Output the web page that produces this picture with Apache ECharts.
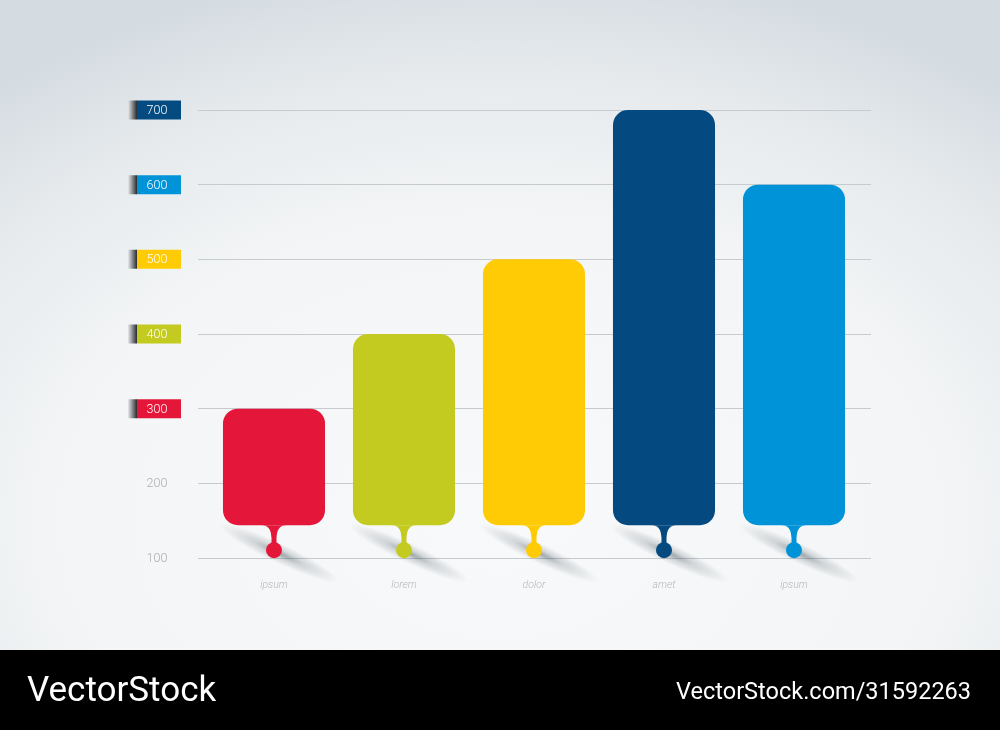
<!DOCTYPE html>
<html>
<head>
<meta charset="utf-8">
<script src="https://cdn.jsdelivr.net/npm/echarts@6/dist/echarts.min.js"></script>
<style>html,body{margin:0;padding:0;background:#fff}#c{width:1000px;height:730px}</style>
</head>
<body>
<div id="c"></div>
<script>
const categories = ['ipsum', 'lorem', 'dolor', 'amet', 'ipsum'];
const values = [300, 400, 500, 700, 600];
const barColors = ['#e4173a', '#c3cb21', '#ffcb05', '#044a80', '#0093d8'];
const yTicks = [100, 200, 300, 400, 500, 600, 700];
const tagValues = [300, 400, 500, 600, 700];
const tagColors = ['#e4173a', '#c3cb21', '#ffcb05', '#0093d8', '#034b80'];
const BAR_BASE = 144;
const DRIP_VALUE = 110.5;

const chart = echarts.init(document.getElementById('c'));

const rich = {
  plain: { width: 40, padding: [2, 4, 0, 9], align: 'center', color: '#a9aeb3',
           fontFamily: 'Roboto', fontWeight: 300, fontSize: 12.5, height: 17, lineHeight: 17 }
};
tagValues.forEach((v, i) => {
  rich['t' + v] = {
    width: 40, padding: [2, 4, 0, 9], height: 17, lineHeight: 17, align: 'center',
    color: '#ffffff', fontFamily: 'Roboto', fontWeight: 300, fontSize: 12.5,
    backgroundColor: new echarts.graphic.LinearGradient(0, 0, 1, 0, [
      { offset: 0, color: '#e6e8ea' },
      { offset: 0.165, color: '#2e3134' },
      { offset: 0.17, color: tagColors[i] },
      { offset: 1, color: tagColors[i] }
    ])
  };
});

function renderItem(params, api) {
  const i = params.dataIndex;
  const top = api.coord([api.value(0), api.value(1)]);
  const bottom = api.coord([api.value(0), BAR_BASE]);
  const dot = api.coord([api.value(0), DRIP_VALUE]);
  const bw = api.size([1, 0])[0] * 0.785;
  const cx = top[0];
  const y0 = bottom[1];
  const dc = dot[1];
  const color = barColors[i];
  const path =
    'M' + (cx - 13) + ' ' + y0 +
    ' C' + (cx - 4) + ' ' + y0 + ' ' + (cx - 3) + ' ' + (y0 + 6) + ' ' + (cx - 2.5) + ' ' + (y0 + 13) +
    ' L' + (cx - 2.5) + ' ' + (dc - 6) +
    ' L' + (cx + 2.5) + ' ' + (dc - 6) +
    ' L' + (cx + 2.5) + ' ' + (y0 + 13) +
    ' C' + (cx + 3) + ' ' + (y0 + 6) + ' ' + (cx + 4) + ' ' + y0 + ' ' + (cx + 13) + ' ' + y0 + ' Z';
  return {
    type: 'group',
    children: [
      {
        type: 'circle',
        shape: { cx: 0, cy: 0, r: 66 },
        x: cx + 5, y: dc + 3,
        scaleX: 1, scaleY: 0.15,
        rotation: -0.44,
        style: {
          fill: new echarts.graphic.RadialGradient(0.5, 0.5, 0.5, [
            { offset: 0, color: 'rgba(30,50,60,0.42)' },
            { offset: 0.4, color: 'rgba(30,50,60,0.17)' },
            { offset: 1, color: 'rgba(30,50,60,0)' }
          ])
        }
      },
      {
        type: 'rect',
        shape: { x: cx - bw / 2, y: top[1], width: bw, height: y0 - top[1], r: 15 },
        style: { fill: color }
      },
      { type: 'path', shape: { pathData: path }, style: { fill: color } },
      { type: 'circle', shape: { cx: cx, cy: dc, r: 8 }, style: { fill: color } }
    ]
  };
}

chart.setOption({
  backgroundColor: '#d4dbe1',
  animation: false,
  graphic: [
    { type: 'circle', z: -100, x: 500, y: 520, scaleX: 1.43, scaleY: 1,
      shape: { cx: 0, cy: 0, r: 560 },
      style: { fill: new echarts.graphic.RadialGradient(0.5, 0.5, 0.5, [
        { offset: 0, color: '#f8f9fa' },
        { offset: 0.55, color: '#f3f5f6' },
        { offset: 0.8, color: '#e6eaed' },
        { offset: 1, color: '#d4dbe1' }
      ]) } },
    { type: 'rect', left: 0, top: 650, shape: { width: 1000, height: 80 }, style: { fill: '#000' }, z: 10 },
    { type: 'text', left: 27, top: 675, z: 11,
      style: { text: 'VectorStock', fill: '#fff', fontFamily: 'Liberation Sans Narrow, Roboto', fontSize: 35, fontWeight: 'normal' } },
    { type: 'text', right: 29, top: 681, z: 11,
      style: { text: 'VectorStock.com/31592263', fill: '#fff', fontFamily: 'Liberation Sans Narrow, Roboto', fontSize: 23.5, fontWeight: 'normal' } }
  ],
  grid: [
    { left: 198, right: 129, top: 110, bottom: 172 },
    { left: 209, right: 141, top: 110, bottom: 172 }
  ],
  xAxis: [
    { gridIndex: 0, type: 'value', show: false, min: 0, max: 1 },
    { gridIndex: 1, type: 'category', data: categories,
      axisLine: { show: false }, axisTick: { show: false },
      axisLabel: { margin: 22, color: '#b3b8bc', fontSize: 10.5, fontStyle: 'italic', fontWeight: 300, fontFamily: 'Roboto' } }
  ],
  yAxis: [
    { gridIndex: 0, type: 'value', min: 100, max: 700, interval: 100,
      axisLine: { show: false }, axisTick: { show: false },
      splitLine: { lineStyle: { color: '#c6cbd0', width: 1 } },
      axisLabel: {
        margin: 17,
        formatter: v => (tagValues.indexOf(v) >= 0 ? '{t' + v + '|' + v + '}' : '{plain|' + v + '}'),
        rich: rich
      }
    },
    { gridIndex: 1, type: 'value', min: 100, max: 700, interval: 100, show: false }
  ],
  series: [
    {
      type: 'custom',
      xAxisIndex: 1, yAxisIndex: 1,
      renderItem: renderItem,
      data: values.map((v, i) => [i, v]),
      clip: false
    }
  ]
});
</script>
</body>
</html>
